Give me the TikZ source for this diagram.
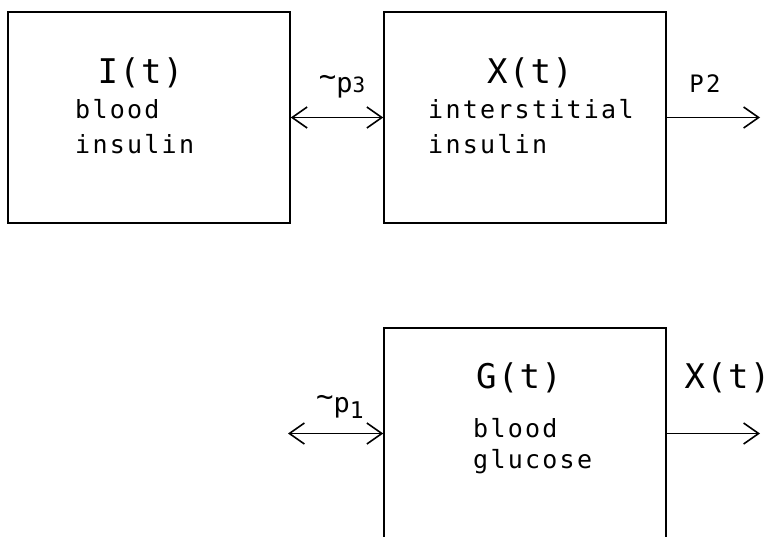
\documentclass[tikz,border=0pt]{standalone}
\usepackage{fontspec}
\usetikzlibrary{arrows.meta}
\newfontfamily\bodyfont[LetterSpace=9]{DejaVu Sans Mono}
\newfontfamily\titlefont[LetterSpace=4]{DejaVu Sans Mono}
\newcommand{\bigtilde}{\raisebox{6pt}{\fontsize{29}{30}\selectfont\char`\~}}
\begin{document}
\begin{tikzpicture}[x=1pt,y=-1pt,
  box/.style={draw,line width=1.5pt,minimum width=282pt,minimum height=211pt,inner sep=0pt},
  title/.style={anchor=base,inner sep=0pt,font=\titlefont\fontsize{34}{40}\selectfont},
  body/.style={anchor=base west,inner sep=0pt,font=\bodyfont\fontsize{25}{30}\selectfont},
  lab/.style={anchor=base,inner sep=0pt,font=\bodyfont\fontsize{27}{30}\selectfont},
  conn/.style={line width=1.6pt},
  >={Straight Barb[length=15pt,width=21pt]}]
\useasboundingbox (0,0) rectangle (777,536);
% boxes
\node[box] (b1) at (149,117.5) {};
\node[box] (b2) at (525,117.5) {};
\node[box] (b3) at (525,433.5) {};
% box 1 text
\node[title] (t1) at (140.5,83) {I(t)};
\node[body] (t1a) at (75,118) {blood};
\node[body] (t1b) at (75,153) {insulin};
% box 2 text
\node[title] (t2) at (530,83) {X(t)};
\node[body] (t2a) at (428,118) {interstitial};
\node[body] (t2b) at (428,153) {insulin};
% box 3 text
\node[title] (t3) at (519,388) {G(t)};
\node[body] (t3a) at (473,437) {blood};
\node[body] (t3b) at (473,468) {glucose};
% labels
\node[lab] (l3) at (342,92) {\bigtilde p{\fontsize{21}{22}\selectfont 3}};
\node[lab] (l2) at (705,92) {\fontsize{24}{28}\selectfont P2};
\node[lab] (l1) at (340,412) {\bigtilde p\raisebox{-6pt}{\fontsize{23}{24}\selectfont 1}};
\node[title] (lx) at (727.5,388) {X(t)};
% connectors
\coordinate (o2) at (760,117.5);
\coordinate (i3) at (288,433.5);
\coordinate (o3) at (760,433.5);
\draw[conn,<->] (b1.east) -- (b2.west);
\draw[conn,->] (b2.east) -- (o2);
\draw[conn,<->] (i3) -- (b3.west);
\draw[conn,->] (b3.east) -- (o3);
\end{tikzpicture}
\end{document}
